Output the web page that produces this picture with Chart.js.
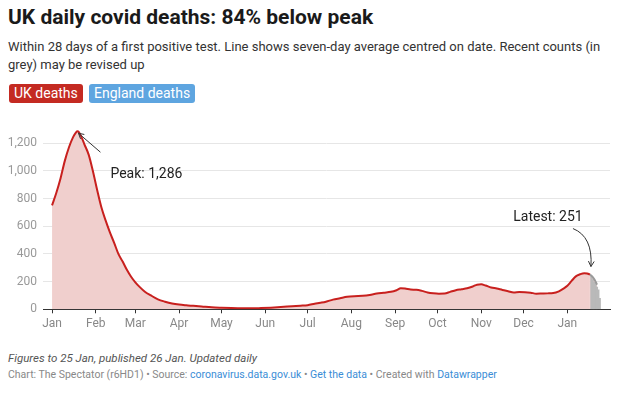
<!DOCTYPE html>
<html>
<head>
<meta charset="utf-8">
<script src="https://cdn.jsdelivr.net/npm/chart.js@4"></script>
<style>
  html, body { margin: 0; padding: 0; background: #fff; }
  body { width: 620px; height: 397px; position: relative; overflow: hidden; font-family: Roboto, "Noto Sans", sans-serif; }
  #title { position: absolute; left: 8px; top: 5px; font-size: 21px; line-height: 24px; font-weight: 700; color: #1a1a1a; white-space: nowrap; }
  #sub { position: absolute; left: 8px; top: 38px; width: 610px; font-size: 13px; line-height: 18px; color: #333; }
  .pill { position: absolute; top: 84px; height: 19px; line-height: 19px; padding: 0 5px; border-radius: 3px; color: #fff; font-size: 14px; }
  #wrap { position: absolute; left: 0; top: 105px; width: 620px; height: 235px; }
  #notes { position: absolute; left: 8px; top: 350px; font-size: 11.5px; line-height: 16px; font-style: italic; color: #555; white-space: nowrap; }
  #byline { position: absolute; left: 8px; top: 368px; font-size: 10.5px; line-height: 14px; color: #888; white-space: nowrap; }
  #byline a { color: #3a8dd6; text-decoration: none; }
</style>
</head>
<body>
<div id="title">UK daily covid deaths: 84% below peak</div>
<div id="sub">Within 28 days of a first positive test. Line shows seven-day average centred on date. Recent counts (in grey) may be revised up</div>
<div class="pill" style="left:9px; background:#c42a22;">UK deaths</div>
<div class="pill" style="left:89px; background:#5ea5e0;">England deaths</div>
<div id="wrap"><canvas id="deathsChart" width="620" height="235"></canvas></div>
<div id="notes">Figures to 25 Jan, published 26 Jan. Updated daily</div>
<div id="byline">Chart: The Spectator (r6HD1) • Source: <a>coronavirus.data.gov.uk</a> • <a>Get the data</a> • Created with <a>Datawrapper</a></div>

<script>
// day 0 = 1 Jan 2021
const days = [0, 3, 6, 9, 12, 15, 17, 18, 19, 21, 23, 26, 29, 32, 35, 38, 41, 44, 47, 50,
  53, 56, 59, 62, 66, 70, 75, 80, 85, 90, 95, 100, 106, 113, 120, 127, 134, 141, 148, 155,
  162, 170, 176, 181, 186, 190, 194, 199, 204, 209, 214, 220, 225, 230, 235, 240, 244, 247, 250, 254,
  258, 262, 266, 270, 274, 278, 282, 286, 290, 294, 298, 301, 304, 307, 311, 315, 319, 323, 327, 331,
  335, 339, 343, 347, 351, 355, 359, 362, 365, 368, 371, 374, 377, 379, 381, 383, 385, 386];
const avgDeaths = [750, 840, 945, 1070, 1170, 1245, 1278, 1286, 1280, 1240, 1190, 1115, 995, 860, 735, 640, 555, 480, 400, 345,
  285, 235, 195, 162, 125, 100, 72, 55, 42, 34, 29, 25, 20, 14, 11, 9, 8, 7, 9, 12,
  16, 22, 26, 30, 40, 47, 55, 70, 80, 90, 95, 98, 104, 114, 120, 126, 138, 152, 150, 143,
  141, 133, 122, 116, 113, 114, 126, 138, 145, 152, 165, 178, 180, 172, 158, 150, 140, 131, 122, 125,
  124, 120, 113, 114, 115, 117, 130, 148, 170, 205, 238, 253, 261, 259, 251, 232, 200, 178];

// recent daily counts shown in grey
const recentDays = [382, 383, 384, 385, 386, 387, 388];
const recentCounts = [240, 215, 195, 190, 160, 140, 80];

const monthTicks = [0, 31, 59, 90, 120, 151, 181, 212, 243, 273, 304, 334, 365];
const monthLabels = ['Jan', 'Feb', 'Mar', 'Apr', 'May', 'Jun', 'Jul', 'Aug', 'Sep', 'Oct', 'Nov', 'Dec', 'Jan'];
const yTicks = [0, 200, 400, 600, 800, 1000, 1200];

const greyFrom = 381;
const peakDay = 18, peakValue = 1286;
const latestDay = 381, latestValue = 251;

const red = '#c8201e';
const grey = '#9a9a9a';

function arrowHead(ctx, x, y, ang) {
    const len = 6;
    ctx.beginPath();
    ctx.moveTo(x + len * Math.cos(ang - 0.5), y + len * Math.sin(ang - 0.5));
    ctx.lineTo(x, y);
    ctx.lineTo(x + len * Math.cos(ang + 0.5), y + len * Math.sin(ang + 0.5));
    ctx.stroke();
}

const notesPlugin = {
    id: 'notes',
    afterDatasetsDraw(chart) {
        const ctx = chart.ctx;
        const xs = chart.scales.x, ys = chart.scales.y;
        ctx.save();
        ctx.strokeStyle = '#333';
        ctx.fillStyle = '#222';
        ctx.lineWidth = 1;
        ctx.font = '14px Roboto, "Noto Sans", sans-serif';

        // peak
        const px = xs.getPixelForValue(peakDay), py = ys.getPixelForValue(peakValue);
        const ax = px + 1, ay = py + 2, bx = px + 23, by = py + 21;
        ctx.beginPath();
        ctx.moveTo(bx, by);
        ctx.lineTo(ax, ay);
        ctx.stroke();
        arrowHead(ctx, ax, ay, Math.atan2(by - ay, bx - ax));
        ctx.textAlign = 'left';
        ctx.textBaseline = 'middle';
        ctx.fillText('Peak: 1,286', px + 33, py + 43);

        // latest
        const lx = xs.getPixelForValue(latestDay), ly = ys.getPixelForValue(latestValue);
        const sx = lx - 17, sy = ly - 46, ex = lx + 1, ey = ly - 8;
        const cx = lx + 3, cy = ly - 38;
        ctx.beginPath();
        ctx.moveTo(sx, sy);
        ctx.quadraticCurveTo(cx, cy, ex, ey);
        ctx.stroke();
        arrowHead(ctx, ex, ey, Math.atan2(cy - ey, cx - ex));
        ctx.textAlign = 'center';
        ctx.fillText('Latest: 251', lx - 42, ly - 57);
        ctx.restore();
    }
};

const ctx = document.getElementById('deathsChart').getContext('2d');
new Chart(ctx, {
    type: 'line',
    data: {
        datasets: [
            {
                type: 'line',
                label: 'UK deaths',
                data: days.map((d, i) => ({x: d, y: avgDeaths[i]})),
                borderColor: red,
                borderWidth: 2,
                backgroundColor: '#f0cfcd',
                fill: 'origin',
                pointRadius: 0,
                cubicInterpolationMode: 'monotone',
                order: 0,
                segment: {
                    borderColor: c => c.p0.parsed.x >= greyFrom ? grey : red
                }
            },
            {
                type: 'bar',
                label: 'Recent',
                data: recentDays.map((d, i) => ({x: d, y: recentCounts[i]})),
                backgroundColor: '#b9b9b9',
                barPercentage: 1,
                categoryPercentage: 1,
                order: 1
            }
        ]
    },
    options: {
        responsive: false,
        animation: false,
        layout: { padding: { top: 8.8, right: 10, bottom: 0, left: 0 } },
        plugins: {
            legend: { display: false },
            tooltip: { enabled: false },
            filler: { drawTime: 'beforeDatasetsDraw' }
        },
        scales: {
            x: {
                type: 'linear',
                min: -6.4,
                max: 395.2,
                offset: false,
                afterBuildTicks: axis => { axis.ticks = monthTicks.map(v => ({value: v})); },
                afterFit: axis => { axis.height = 30.7; },
                ticks: {
                    callback: (v, i) => monthLabels[i],
                    color: '#888',
                    font: { family: 'Roboto', size: 12 },
                    padding: 3,
                    maxRotation: 0,
                    autoSkip: false
                },
                grid: { drawOnChartArea: false, drawTicks: true, tickLength: 4, color: '#333', offset: false },
                border: { color: '#333', width: 1 }
            },
            y: {
                min: 0,
                max: 1380,
                afterBuildTicks: axis => { axis.ticks = yTicks.map(v => ({value: v})); },
                afterFit: axis => { axis.width = 43; },
                ticks: {
                    callback: v => v.toLocaleString('en-GB'),
                    color: '#999',
                    font: { family: 'Roboto', size: 12 },
                    padding: 6
                },
                grid: { color: '#e6e6e6', drawTicks: false },
                border: { display: false }
            }
        }
    },
    plugins: [notesPlugin]
});
</script>
</body>
</html>
